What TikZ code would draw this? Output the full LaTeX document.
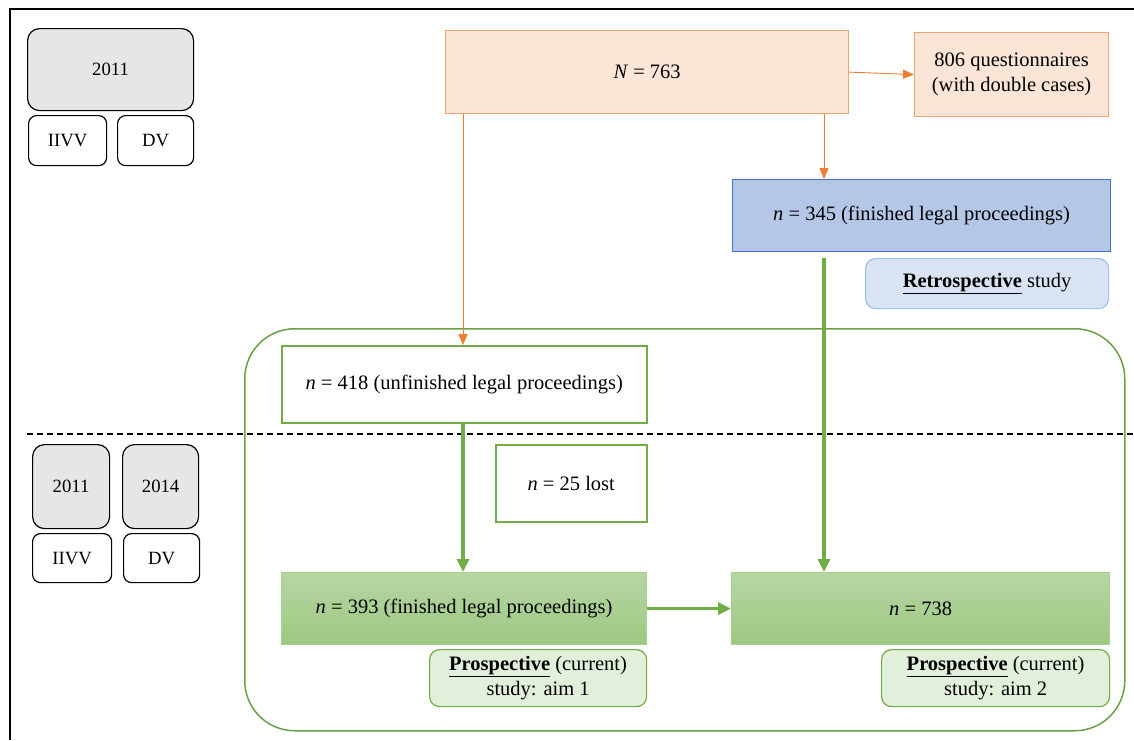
\documentclass[tikz,border=0pt]{standalone}
\usepackage{fontspec}
\setmainfont{Liberation Serif}
\usetikzlibrary{arrows.meta}
\definecolor{ofill}{HTML}{FBE5D6}
\definecolor{oborder}{HTML}{F3A46E}
\definecolor{oarrow}{HTML}{ED7D31}
\definecolor{bfill}{HTML}{B4C7E7}
\definecolor{bborder}{HTML}{4472C4}
\definecolor{rfill}{HTML}{DAE3F3}
\definecolor{rborder}{HTML}{9DC3E6}
\definecolor{gline}{HTML}{70AD47}
\definecolor{gframe}{HTML}{6A9F45}
\definecolor{gpale}{HTML}{E2EFDA}
\definecolor{gtop}{HTML}{B5D6A3}
\definecolor{gbot}{HTML}{9DC881}
\definecolor{gborder}{HTML}{A9D18E}
\definecolor{ygray}{HTML}{E6E6E6}
\tikzset{
  every node/.style={font=\fontsize{20.5}{25}\selectfont, inner sep=0pt, align=center, anchor=north west},
  yearbox/.style={draw=black, line width=1.2, rounded corners=12, fill=ygray, font=\fontsize{18.7}{22}\selectfont},
  labbox/.style={draw=black, line width=1.2, rounded corners=8, fill=white, font=\fontsize{18.7}{22}\selectfont},
  obox/.style={draw=oborder, line width=1.2, fill=ofill},
  bbox/.style={draw=bborder, line width=1.2, fill=bfill},
  rbox/.style={draw=rborder, line width=1.2, fill=rfill, rounded corners=10},
  wbox/.style={draw=gline, line width=1.5, fill=white},
  gbox/.style={draw=gborder, line width=1.2, top color=gtop, bottom color=gbot},
  pbox/.style={draw=gline, line width=1.2, fill=gpale, rounded corners=10},
  oarr/.style={draw=oarrow, line width=0.9, -{Triangle[length=11pt,width=9pt]}},
  garr/.style={draw=gline, line width=3.5, -{Triangle[length=13pt,width=12pt]}},
}
\begin{document}
\begin{tikzpicture}[x=1pt,y=-1pt]
\useasboundingbox (0,0) rectangle (1134,740);
% outer frame
\draw[line width=2] (10,740) -- (10,9) -- (1134,9);
% big rounded frame
\node[draw=gframe, line width=1.5, rounded corners=50, minimum width=880, minimum height=402] (frame) at (244,328) {};
% year boxes
\node[yearbox, minimum width=166, minimum height=82] (y1) at (27,28) {2011};
\node[labbox, minimum width=78, minimum height=50] (iivv1) at (28,115) {IIVV};
\node[labbox, minimum width=76, minimum height=50] (dv1) at (117,115) {DV};
\node[yearbox, minimum width=77, minimum height=84] (y2a) at (32,444) {2011};
\node[yearbox, minimum width=76, minimum height=84] (y2b) at (122,444) {2014};
\node[labbox, minimum width=79, minimum height=49] (iivv2) at (32,533) {IIVV};
\node[labbox, minimum width=76, minimum height=49] (dv2) at (123,533) {DV};
% main boxes
\node[obox, minimum width=403, minimum height=83] (N) at (445,30) {\textit{N} = 763};
\node[obox, minimum width=194, minimum height=84] (q) at (914,32) {806 questionnaires\\(with double cases)};
\node[bbox, minimum width=378, minimum height=72] (n345) at (732,179) {\textit{n} = 345 (finished legal proceedings)};
\node[rbox, minimum width=243, minimum height=50] (retro) at (865,258) {\underline{\textbf{Retrospective}} study};
\node[wbox, minimum width=365, minimum height=77] (n418) at (281,345) {\textit{n} = 418 (unfinished legal proceedings)};
\node[wbox, minimum width=151, minimum height=77] (lost) at (495,444) {\textit{n} = 25 lost};
\node[gbox, minimum width=365, minimum height=72] (n393) at (281,572) {\textit{n} = 393 (finished legal proceedings)};
\node[gbox, minimum width=378, minimum height=72] (n738) at (731,572) {\textit{n} = 738};
\node[pbox, minimum width=217, minimum height=57] (p1) at (429,649) {\underline{\textbf{Prospective}} (current)\\study: aim 1};
\node[pbox, minimum width=228, minimum height=57] (p2) at (881,649) {\underline{\textbf{Prospective}} (current)\\study: aim 2};
% dashed separator
\draw[line width=1.2, dash pattern=on 6pt off 4pt] (27,434) -- (1134,434);
% connectors
\coordinate (xl) at (463,0);
\coordinate (xr) at (824,0);
\draw[oarr] (N.east) -- (q.west);
\draw[oarr] (N.south -| xr) -- (n345.north -| xr);
\draw[oarr] (N.south -| xl) -- (n418.north -| xl);
\draw[garr] (n418.south -| xl) -- (n393.north -| xl);
\draw[garr, shorten <=6pt] (n345.south -| xr) -- (n738.north -| xr);
\draw[garr] (n393.east) -- (n738.west);
\end{tikzpicture}
\end{document}
